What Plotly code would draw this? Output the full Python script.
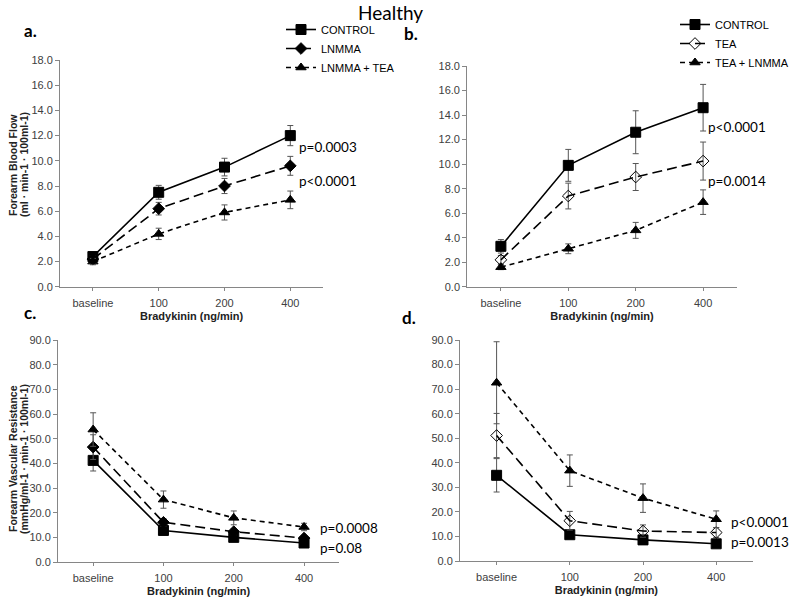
import plotly.graph_objects as go

# x categories (bradykinin dose)
categories = ["baseline", "100", "200", "400"]

# a. forearm blood flow, LNMMA protocol
fbf_a_control = [2.4, 7.5, 9.5, 12.0]
fbf_a_control_err = [0.3, 0.55, 0.7, 0.8]
fbf_a_lnmma = [2.2, 6.2, 8.0, 9.6]
fbf_a_lnmma_err = [0.25, 0.5, 0.6, 0.75]
fbf_a_lnmma_tea = [2.0, 4.2, 5.9, 6.9]
fbf_a_lnmma_tea_err = [0.25, 0.45, 0.6, 0.7]

# b. forearm blood flow, TEA protocol
fbf_b_control = [3.3, 9.9, 12.6, 14.6]
fbf_b_control_err = [0.55, 1.3, 1.75, 1.9]
fbf_b_tea = [2.2, 7.4, 8.95, 10.25]
fbf_b_tea_err = [0.35, 1.05, 1.1, 1.55]
fbf_b_tea_lnmma = [1.6, 3.1, 4.6, 6.9]
fbf_b_tea_lnmma_err = [0.2, 0.4, 0.65, 1.0]

# c. forearm vascular resistance, LNMMA protocol
fvr_c_control = [41.2, 12.8, 10.0, 7.7]
fvr_c_control_err = [4.3, 1.0, 1.0, 1.0]
fvr_c_lnmma = [46.6, 16.1, 12.3, 9.7]
fvr_c_lnmma_err = [5.0, 1.5, 1.2, 1.0]
fvr_c_lnmma_tea = [53.7, 25.3, 17.9, 14.2]
fvr_c_lnmma_tea_err = [6.8, 3.5, 2.8, 1.5]

# d. forearm vascular resistance, TEA protocol
fvr_d_control = [34.9, 10.7, 8.6, 7.0]
fvr_d_control_err = [6.8, 1.2, 1.0, 0.8]
fvr_d_tea = [51.1, 16.4, 12.2, 11.6]
fvr_d_tea_err = [9.0, 3.8, 2.5, 2.0]
fvr_d_tea_lnmma = [72.6, 36.8, 25.6, 17.0]
fvr_d_tea_lnmma_err = [16.7, 6.4, 5.8, 3.4]

# p-value labels: (panel, x position in category units, y value, text)
p_labels = [
    ("a", 3.1, 11.1, "p=0.0003"), ("a", 3.1, 8.4, "p<0.0001"),
    ("b", 3.04, 13.0, "p<0.0001"), ("b", 3.04, 8.6, "p=0.0014"),
    ("c", 3.2, 13.8, "p=0.0008"), ("c", 3.2, 5.7, "p=0.08"),
    ("d", 3.17, 15.9, "p<0.0001"), ("d", 3.17, 7.7, "p=0.0013"),
]

# y-axis titles, two lines each
fbf_title = ["Forearm Blood Flow", "(ml · min-1 · 100ml-1)"]
fvr_title = ["Forearm Vascular Resistance", "(mmHg/ml-1 · min-1 · 100ml-1)"]

ARIAL = "Liberation Sans, Arial, sans-serif"
CALIBRI = "Lato, Open Sans, sans-serif"
ERR_COLOR = "#555555"

STYLES = {
    "control": dict(symbol="square", size=10, dash="solid"),
    "lnmma": dict(symbol="diamond", size=9, dash="10px,5px"),
    "tea": dict(symbol="diamond-open", size=9, dash="10px,5px"),
    "combo": dict(symbol="triangle-up", size=9, dash="5px,4px"),
}

fig = go.Figure()


def add_series(name, style, y, err, xaxis, yaxis, legend=None):
    st = STYLES[style]
    fig.add_trace(go.Scatter(
        x=categories, y=y, name=name, mode="lines+markers",
        xaxis=xaxis, yaxis=yaxis,
        line=dict(color="black", width=1.6, dash=st["dash"]),
        marker=dict(symbol=st["symbol"], size=st["size"], color="black",
                    line=dict(color="black", width=1)),
        error_y=dict(type="data", array=err, color=ERR_COLOR, thickness=1, width=3),
        showlegend=legend is not None, legend=legend or "legend",
    ))


add_series("CONTROL", "control", fbf_a_control, fbf_a_control_err, "x", "y", "legend")
add_series("LNMMA", "lnmma", fbf_a_lnmma, fbf_a_lnmma_err, "x", "y", "legend")
add_series("LNMMA + TEA", "combo", fbf_a_lnmma_tea, fbf_a_lnmma_tea_err, "x", "y", "legend")

add_series("CONTROL", "control", fbf_b_control, fbf_b_control_err, "x2", "y2", "legend2")
add_series("TEA", "tea", fbf_b_tea, fbf_b_tea_err, "x2", "y2", "legend2")
add_series("TEA + LNMMA", "combo", fbf_b_tea_lnmma, fbf_b_tea_lnmma_err, "x2", "y2", "legend2")

add_series("CONTROL", "control", fvr_c_control, fvr_c_control_err, "x3", "y3")
add_series("LNMMA", "lnmma", fvr_c_lnmma, fvr_c_lnmma_err, "x3", "y3")
add_series("LNMMA + TEA", "combo", fvr_c_lnmma_tea, fvr_c_lnmma_tea_err, "x3", "y3")

add_series("CONTROL", "control", fvr_d_control, fvr_d_control_err, "x4", "y4")
add_series("TEA", "tea", fvr_d_tea, fvr_d_tea_err, "x4", "y4")
add_series("TEA + LNMMA", "combo", fvr_d_tea_lnmma, fvr_d_tea_lnmma_err, "x4", "y4")

xdomains = {"": [0.075, 0.404], "2": [0.584, 0.921], "3": [0.0725, 0.424], "4": [0.575, 0.941]}
ydomains = {"": [0.522, 0.9], "2": [0.522, 0.89], "3": [0.0633, 0.4333], "4": [0.065, 0.4333]}

axis_common = dict(showline=True, linecolor="#868686", linewidth=1, showgrid=False,
                   zeroline=False, ticks="outside", ticklen=4, tickcolor="#868686",
                   automargin=False,
                   tickfont=dict(family=ARIAL, size=11, color="#404040"))
title_font = dict(family=ARIAL, size=11, color="#222222")

for k in ["", "2", "3", "4"]:
    top = k in ("", "2")
    fig.update_layout({
        f"xaxis{k}": dict(axis_common, domain=xdomains[k], anchor=f"y{k}",
                          type="category", range=[-0.5, 3.5], ticklen=3,
                          ticklabelstandoff=3,
                          title=dict(text="<b>Bradykinin (ng/min)</b>", font=title_font,
                                     standoff=4)),
        f"yaxis{k}": dict(axis_common, domain=ydomains[k], anchor=f"x{k}",
                          range=[0, 18] if top else [0, 90],
                          dtick=2 if top else 10, tickformat=".1f"),
    })

panel_axes = {"a": ("x", "y"), "b": ("x2", "y2"), "c": ("x3", "y3"), "d": ("x4", "y4")}
annotations = []
for panel, xv, yv, text in p_labels:
    xa, ya = panel_axes[panel]
    annotations.append(dict(x=xv, y=yv, xref=xa, yref=ya, text=text, showarrow=False,
                            xanchor="left", yanchor="middle",
                            font=dict(family=CALIBRI, size=13.5, color="black")))

# rotated y titles for the left-hand panels, one annotation per line
y_title_font = dict(family=ARIAL, size=10.5, color="#222222")
for lines, yc in [(fbf_title, 1 - 165 / 600), (fvr_title, 1 - 459 / 600)]:
    for text, xc in zip(lines, [13 / 800, 24 / 800]):
        annotations.append(dict(x=xc, y=yc, xref="paper", yref="paper", text=f"<b>{text}</b>",
                                textangle=-90, showarrow=False, xanchor="center",
                                yanchor="middle", font=y_title_font))

for text, x, y in [("a.", 22 / 800, 1 - 30 / 600), ("b.", 402 / 800, 1 - 34 / 600),
                   ("c.", 22 / 800, 1 - 313 / 600), ("d.", 400 / 800, 1 - 317 / 600)]:
    annotations.append(dict(x=x, y=y, xref="paper", yref="paper", text=f"<b>{text}</b>",
                            showarrow=False, xanchor="left", yanchor="middle",
                            font=dict(family=CALIBRI, size=17, color="black")))

annotations.append(dict(x=390 / 800, y=1 - 12 / 600, xref="paper", yref="paper", text="Healthy",
                        showarrow=False, yanchor="middle",
                        font=dict(family=CALIBRI, size=19, color="black")))

legend_style = dict(font=dict(family=ARIAL, size=11, color="black"), bgcolor="rgba(0,0,0,0)",
                    itemwidth=30, tracegroupgap=0, xanchor="left", yanchor="top")

fig.update_layout(
    width=800, height=600, margin=dict(l=0, r=0, t=0, b=0),
    plot_bgcolor="white", paper_bgcolor="white",
    annotations=annotations,
    legend=dict(legend_style, x=281 / 800, y=1 - 15 / 600),
    legend2=dict(legend_style, x=675 / 800, y=1 - 10 / 600),
)

# drop the browser's default 8px body margin so the figure sits at the page corner
fig.write_html("out.html", config={"displayModeBar": False},
               post_script="document.body.style.margin = '0';")
